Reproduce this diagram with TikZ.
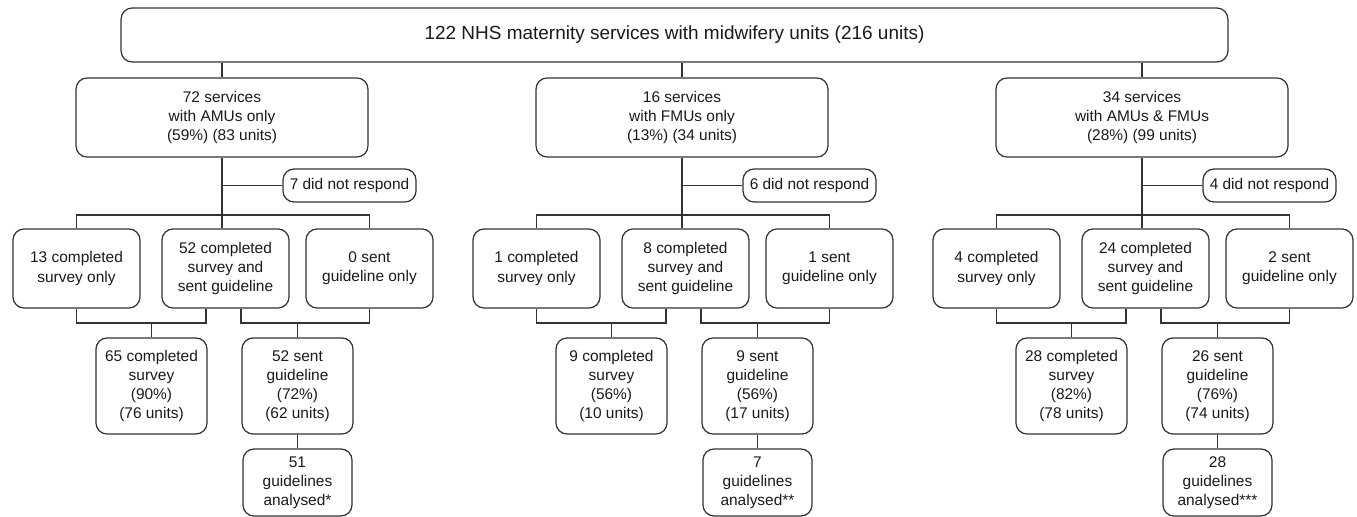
\documentclass[tikz,border=0pt]{standalone}
\usepackage{fontspec}
\setmainfont{Liberation Sans}
\definecolor{linegray}{HTML}{333333}
\definecolor{textgray}{HTML}{1A1A1A}

\begin{document}
\begin{tikzpicture}[x=0.02cm,y=-0.02cm,
		box/.style={draw=linegray,line width=0.7pt,rounded corners=0.22cm,align=center,inner sep=0pt,text=textgray,font=\fontsize{8.8}{10.9}\selectfont},
		topbox/.style={box,minimum width=22.14cm,minimum height=1.08cm,font=\fontsize{10.8}{13}\selectfont},
		servbox/.style={box,minimum width=5.84cm,minimum height=1.58cm},
		nrbox/.style={box,minimum width=2.66cm,minimum height=0.66cm},
		splitbox/.style={box,minimum width=2.54cm,minimum height=1.58cm},
		sumbox/.style={box,minimum width=2.22cm,minimum height=1.92cm},
		endbox/.style={box,minimum width=2.18cm,minimum height=1.34cm},
		link/.style={draw=linegray,line width=0.7pt}]
				\useasboundingbox (0,0) rectangle (1357,517);
				\node[topbox] (top) at (674.5,35) {122 NHS maternity services with midwifery units (216 units)};
				% AMUs only
				\node[servbox] (s1) at (222,117.5) {72 services\\with AMUs only\\(59\%) (83 units)};
				\node[nrbox] (n1) at (349.5,185.5) {7 did not respond};
				\node[splitbox] (a1) at (76.5,268.5) {13 completed\\survey only};
				\node[splitbox] (b1) at (225.5,268.5) {52 completed\\survey and\\sent guideline};
				\node[splitbox] (c1) at (369.5,268.5) {0 sent\\guideline only};
				\node[sumbox] (d1) at (151.5,386) {65 completed\\survey\\(90\%)\\(76 units)};
				\node[sumbox] (e1) at (297.5,386) {52 sent\\guideline\\(72\%)\\(62 units)};
				\node[endbox] (f1) at (297.5,482.5) {51\\guidelines\\analysed*};
				% FMUs only
				\node[servbox] (s2) at (682,117.5) {16 services\\with FMUs only\\(13\%) (34 units)};
				\node[nrbox] (n2) at (809.5,185.5) {6 did not respond};
				\node[splitbox] (a2) at (536.5,268.5) {1 completed\\survey only};
				\node[splitbox] (b2) at (685.5,268.5) {8 completed\\survey and\\sent guideline};
				\node[splitbox] (c2) at (829.5,268.5) {1 sent\\guideline only};
				\node[sumbox] (d2) at (611.5,386) {9 completed\\survey\\(56\%)\\(10 units)};
				\node[sumbox] (e2) at (757.5,386) {9 sent\\guideline\\(56\%)\\(17 units)};
				\node[endbox] (f2) at (757.5,482.5) {7\\guidelines\\analysed**};
				% AMUs & FMUs
				\node[servbox] (s3) at (1142,117.5) {34 services\\with AMUs \& FMUs\\(28\%) (99 units)};
				\node[nrbox] (n3) at (1269.5,185.5) {4 did not respond};
				\node[splitbox] (a3) at (996.5,268.5) {4 completed\\survey only};
				\node[splitbox] (b3) at (1145.5,268.5) {24 completed\\survey and\\sent guideline};
				\node[splitbox] (c3) at (1289.5,268.5) {2 sent\\guideline only};
				\node[sumbox] (d3) at (1071.5,386) {28 completed\\survey\\(82\%)\\(78 units)};
				\node[sumbox] (e3) at (1217.5,386) {26 sent\\guideline\\(76\%)\\(74 units)};
				\node[endbox] (f3) at (1217.5,482.5) {28\\guidelines\\analysed***};
				% join points
				\coordinate (j1) at (222,215);
				\coordinate (p1) at (206,323);
				\coordinate (q1) at (241,323);
				\coordinate (j2) at (682,215);
				\coordinate (p2) at (666,323);
				\coordinate (q2) at (701,323);
				\coordinate (j3) at (1142,215);
				\coordinate (p3) at (1126,323);
				\coordinate (q3) at (1161,323);
				\draw[link] (top.south -| s1.north) -- (s1.north);
				\draw[link] (top.south -| s2.north) -- (s2.north);
				\draw[link] (top.south -| s3.north) -- (s3.north);
				\draw[link] (s1.south) -- (j1 |- b1.north);
				\draw[link] (s2.south) -- (j2 |- b2.north);
				\draw[link] (s3.south) -- (j3 |- b3.north);
				\draw[link] (n1.west) -- (n1.west -| s1.south);
				\draw[link] (n2.west) -- (n2.west -| s2.south);
				\draw[link] (n3.west) -- (n3.west -| s3.south);
				\draw[link] (a1.north) |- (j1) -| (c1.north);
				\draw[link] (a2.north) |- (j2) -| (c2.north);
				\draw[link] (a3.north) |- (j3) -| (c3.north);
				\draw[link] (a1.south) |- (p1) -- (p1 |- b1.south);
				\draw[link] (a2.south) |- (p2) -- (p2 |- b2.south);
				\draw[link] (a3.south) |- (p3) -- (p3 |- b3.south);
				\draw[link] (q1 |- b1.south) -- (q1) -| (c1.south);
				\draw[link] (q2 |- b2.south) -- (q2) -| (c2.south);
				\draw[link] (q3 |- b3.south) -- (q3) -| (c3.south);
				\draw[link] (d1.north) -- (d1.north |- p1);
				\draw[link] (d2.north) -- (d2.north |- p2);
				\draw[link] (d3.north) -- (d3.north |- p3);
				\draw[link] (e1.north) -- (e1.north |- q1);
				\draw[link] (e2.north) -- (e2.north |- q2);
				\draw[link] (e3.north) -- (e3.north |- q3);
				\draw[link] (e1) -- (f1);
				\draw[link] (e2) -- (f2);
				\draw[link] (e3) -- (f3);
			\end{tikzpicture}
\end{document}
